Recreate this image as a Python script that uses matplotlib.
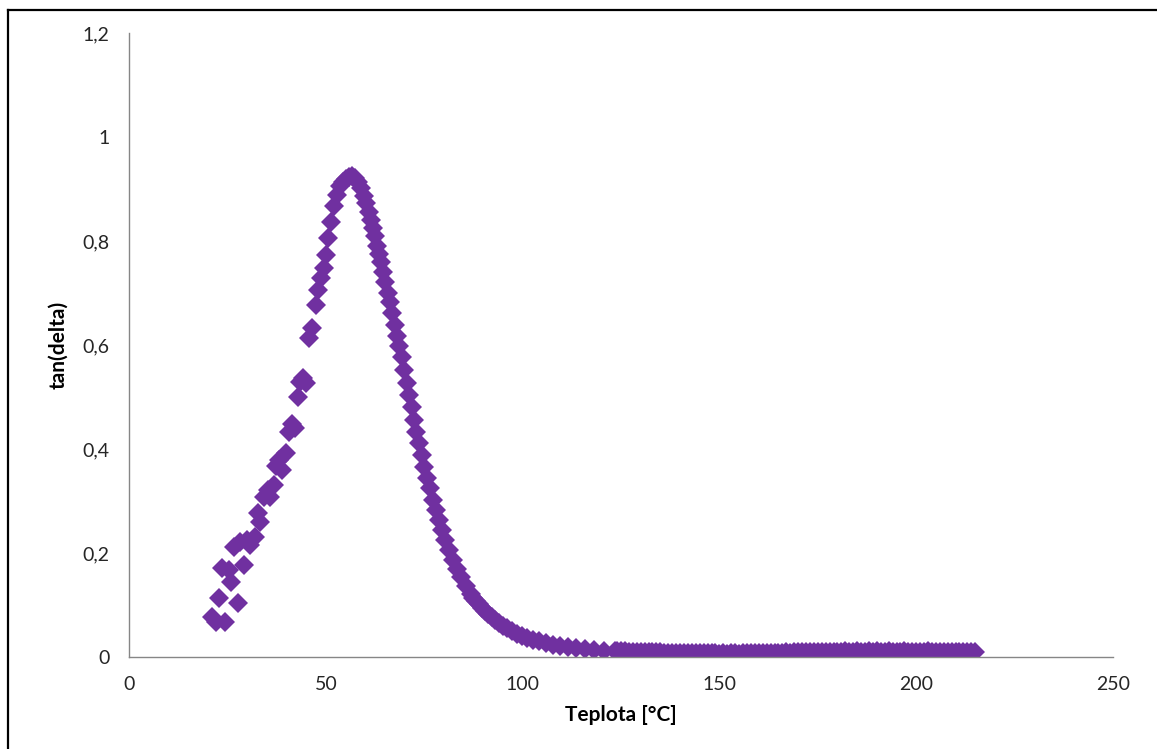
import matplotlib.pyplot as plt
from matplotlib.lines import Line2D
import matplotlib as mpl

mpl.rcParams['font.family'] = ['Lato', 'DejaVu Sans']

# tan(delta) vs. temperature
teplota = [
    21.1, 22.1, 22.9, 23.6, 24.4, 25.4, 25.9, 26.7, 27.7, 28.2,
    29.2, 30.0, 30.7, 32.0, 32.8, 33.3, 34.3, 35.3, 35.8, 36.8,
    37.3, 38.1, 38.9, 39.9, 40.7, 41.4, 42.2, 42.9, 43.4, 44.2,
    45.0, 45.7, 46.5, 47.5, 48.0, 48.8, 49.5, 50.1, 50.6, 51.3,
    52.1, 52.8, 53.6, 54.4, 55.1, 55.9, 56.7, 57.4, 58.2, 58.9,
    59.7, 60.2, 61.0, 61.5, 62.0, 62.5, 63.0, 63.5, 64.0, 64.5,
    65.0, 65.8, 66.3, 66.8, 67.6, 68.1, 68.6, 69.4, 69.9, 70.6,
    71.1, 71.9, 72.4, 72.9, 73.7, 74.4, 74.9, 75.7, 76.5, 77.2,
    78.0, 78.8, 79.5, 80.3, 81.3, 82.3, 83.3, 84.3, 85.6, 86.9,
    87.5, 88.2, 89.0, 89.7, 90.5, 91.2, 92.1, 93.0, 94.0, 95.0,
    96.1, 97.3, 98.5, 99.8, 101.2, 102.6, 104.2, 105.9, 107.7, 109.5,
    111.5, 113.6, 115.8, 118.1, 120.8, 123.5,
    124, 125, 126, 127, 128, 129, 130, 131, 132, 133,
    134, 135, 136, 137, 138, 139, 140, 141, 142, 143,
    144, 145, 146, 147, 148, 149, 150, 151, 152, 153,
    154, 155, 156, 157, 158, 159, 160, 161, 162, 163,
    164, 165, 166, 167, 168, 169, 170, 171, 172, 173,
    174, 175, 176, 177, 178, 179, 180, 181, 182, 183,
    184, 185, 186, 187, 188, 189, 190, 191, 192, 193,
    194, 195, 196, 197, 198, 199, 200, 201, 202, 203,
    204, 205, 206, 207, 208, 209, 210, 211, 212, 213,
    214, 215,
]
tan_delta = [
    0.077, 0.067, 0.113, 0.171, 0.067, 0.167, 0.144, 0.212, 0.104, 0.221,
    0.177, 0.225, 0.215, 0.231, 0.277, 0.260, 0.308, 0.321, 0.308, 0.331,
    0.367, 0.379, 0.360, 0.392, 0.433, 0.448, 0.440, 0.500, 0.529, 0.537,
    0.527, 0.613, 0.633, 0.677, 0.706, 0.729, 0.748, 0.773, 0.806, 0.837,
    0.867, 0.888, 0.906, 0.913, 0.919, 0.923, 0.925, 0.921, 0.913, 0.902,
    0.887, 0.873, 0.856, 0.840, 0.825, 0.810, 0.790, 0.775, 0.760, 0.740,
    0.721, 0.700, 0.683, 0.662, 0.638, 0.617, 0.598, 0.577, 0.552, 0.527,
    0.504, 0.481, 0.456, 0.433, 0.412, 0.388, 0.365, 0.344, 0.325, 0.302,
    0.283, 0.263, 0.244, 0.225, 0.206, 0.187, 0.169, 0.154, 0.137, 0.121,
    0.114, 0.108, 0.101, 0.094, 0.088, 0.083, 0.077, 0.071, 0.065, 0.060,
    0.055, 0.050, 0.045, 0.040, 0.036, 0.033, 0.030, 0.027, 0.024, 0.021,
    0.019, 0.017, 0.015, 0.013, 0.0125, 0.012,
    0.011, 0.011, 0.011, 0.010, 0.010, 0.010, 0.010, 0.009, 0.009, 0.009,
    0.009, 0.009, 0.008, 0.008, 0.008, 0.008, 0.008, 0.008, 0.007, 0.007,
    0.007, 0.007, 0.007, 0.007, 0.007, 0.007, 0.006, 0.007, 0.006, 0.007,
    0.007, 0.006, 0.007, 0.007, 0.007, 0.007, 0.007, 0.008, 0.007, 0.008,
    0.008, 0.008, 0.008, 0.009, 0.008, 0.009, 0.009, 0.009, 0.009, 0.009,
    0.010, 0.009, 0.010, 0.009, 0.010, 0.010, 0.010, 0.010, 0.011, 0.010,
    0.010, 0.011, 0.010, 0.010, 0.011, 0.010, 0.011, 0.010, 0.010, 0.011,
    0.010, 0.010, 0.010, 0.011, 0.010, 0.010, 0.010, 0.010, 0.010, 0.011,
    0.010, 0.010, 0.010, 0.010, 0.010, 0.010, 0.010, 0.010, 0.010, 0.010,
    0.010, 0.010,
]

x_ticks = [0, 50, 100, 150, 200, 250]
y_ticks = [0, 0.2, 0.4, 0.6, 0.8, 1.0, 1.2]
y_tick_labels = ['0', '0,2', '0,4', '0,6', '0,8', '1', '1,2']

fig = plt.figure(figsize=(11.57, 7.49), dpi=100)
ax = fig.add_axes([129 / 1157, 92 / 749, 984 / 1157, 624 / 749])

ax.plot(teplota, tan_delta, linestyle='none', marker='D', markersize=9.8,
        color='#7030A0', markeredgewidth=0)

ax.set_xlim(0, 250)
ax.set_ylim(0, 1.2)
ax.set_xticks(x_ticks)
ax.set_xticklabels([str(t) for t in x_ticks])
ax.set_yticks(y_ticks)
ax.set_yticklabels(y_tick_labels)
ax.tick_params(length=0, labelsize=14, labelcolor='#262626')
ax.tick_params(axis='x', pad=14)
ax.tick_params(axis='y', pad=14)

for side in ['top', 'right']:
    ax.spines[side].set_visible(False)
for side in ['left', 'bottom']:
    ax.spines[side].set_color('#868686')
    ax.spines[side].set_linewidth(1.0)

ax.set_xlabel('Teplota [°C]', fontsize=15, fontweight='bold', labelpad=8)
ax.set_ylabel('tan(delta)', fontsize=15, fontweight='bold', labelpad=10)

# outer frame (only left and top edges are visible in the picture)
fig.add_artist(Line2D([8 / 1157, 8 / 1157], [0, 1 - 10 / 749], color='black', lw=1.6))
fig.add_artist(Line2D([8 / 1157, 1], [1 - 10 / 749, 1 - 10 / 749], color='black', lw=1.6))

fig.savefig('out.png', dpi=100)
